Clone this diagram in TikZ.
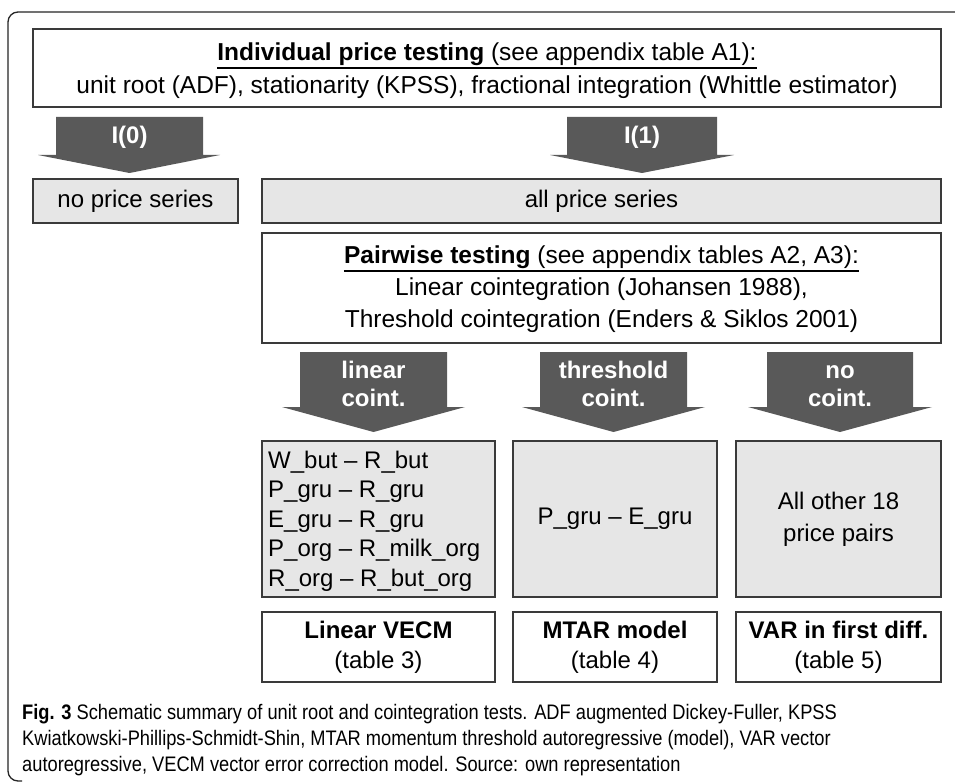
\documentclass[tikz,border=0pt]{standalone}
\usepackage{fontspec}
\setmainfont{Liberation Sans}
\newfontfamily\capfont{Liberation Sans}[FakeStretch=0.87]
\definecolor{arrowgray}{HTML}{595959}
\definecolor{boxgray}{HTML}{E6E6E6}
\definecolor{edgegray}{HTML}{3A3A3A}
\begin{document}
\begin{tikzpicture}[x=1pt,y=-1pt,
  box/.style={draw=edgegray, line width=1.4pt, inner sep=0pt},
  gbox/.style={box, fill=boxgray},
  txt/.style={font=\fontsize{24.5}{34}\selectfont, inner sep=0pt},
  rtxt/.style={font=\fontsize{24}{29.5}\selectfont, inner sep=0pt},
  atxt/.style={font=\fontsize{24}{28}\selectfont\bfseries, text=white, align=center, inner sep=0pt},
  capt/.style={font=\capfont\fontsize{21}{26}\selectfont, inner sep=0pt, anchor=base west},
  uline/.style={line width=1.2pt, draw=black}
]
\useasboundingbox (0,0) rectangle (955,783);
\fill[white] (0,0) rectangle (955,783);

% outer frame
\draw[line width=1.3pt, black!85, rounded corners=10pt] (955,12) -- (8,12) -- (8,781) -- (22,781);

% top box
\node[box, minimum width=908pt, minimum height=78pt] (top) at (487,68) {};
\node[txt, anchor=base] (topl1) at (487,61) {\textbf{Individual price testing} (see appendix table A1):};
\draw[uline] ([yshift=-7pt]topl1.base west) -- ([yshift=-7pt]topl1.base east);
\node[txt, anchor=base] (topl2) at (487,94) {unit root (ADF), stationarity (KPSS), fractional integration (Whittle estimator)};

% first arrows
\fill[arrowgray] (56,117) -- (203,117) -- (203,155) -- (220,155) -- (129.5,173) -- (38,155) -- (56,155) -- cycle;
\node[atxt] (a0) at (129.5,137) {I(0)};
\fill[arrowgray] (567,117) -- (717,117) -- (717,155) -- (734,155) -- (642,173) -- (550,155) -- (567,155) -- cycle;
\node[atxt] (a1) at (642,137) {I(1)};

% second row
\node[gbox, minimum width=205pt, minimum height=44pt, rtxt] (nops) at (135.5,201) {no price series};
\node[gbox, minimum width=679pt, minimum height=44pt, rtxt] (allps) at (601.5,201) {all price series};

% pairwise box
\node[box, minimum width=679pt, minimum height=110pt] (pair) at (601.5,288) {};
\node[txt, anchor=base] (pl1) at (601.5,264) {\textbf{Pairwise testing} (see appendix tables A2, A3):};
\draw[uline] ([yshift=-7pt]pl1.base west) -- ([yshift=-7pt]pl1.base east);
\node[txt, anchor=base] (pl2) at (601.5,296) {Linear cointegration (Johansen 1988),};
\node[txt, anchor=base] (pl3) at (601.5,327) {Threshold cointegration (Enders \& Siklos 2001)};

% second arrows
\fill[arrowgray] (300,352) -- (447,352) -- (447,407) -- (465,407) -- (373.5,432) -- (282,407) -- (300,407) -- cycle;
\node[atxt] (al) at (373.5,384) {linear\\coint.};
\fill[arrowgray] (540,352) -- (687,352) -- (687,407) -- (705,407) -- (613.5,432) -- (522,407) -- (540,407) -- cycle;
\node[atxt] (at) at (613.5,384) {threshold\\coint.};
\fill[arrowgray] (767,352) -- (913,352) -- (913,407) -- (932,407) -- (840,432) -- (748,407) -- (767,407) -- cycle;
\node[atxt] (an) at (840,384) {\vphantom{l}no\\coint.};

% third row
\node[gbox, minimum width=233pt, minimum height=156pt] (lin) at (378.5,519) {};
\node[rtxt, align=left, anchor=west] (lintxt) at (268,521) {W\_but – R\_but\\P\_gru – R\_gru\\E\_gru – R\_gru\\P\_org – R\_milk\_org\\R\_org – R\_but\_org};
\node[gbox, minimum width=204pt, minimum height=156pt, rtxt] (thr) at (615,519) {P\_gru – E\_gru};
\node[gbox, minimum width=205pt, minimum height=156pt, rtxt, align=center, font=\fontsize{24}{32}\selectfont] (oth) at (838.5,519) {All other 18\\price pairs};

% fourth row
\node[box, minimum width=233pt, minimum height=70pt, align=center, font=\fontsize{24}{30}\selectfont] (vecm) at (378.5,647) {\textbf{Linear VECM}\\(table 3)};
\node[box, minimum width=204pt, minimum height=70pt, align=center, font=\fontsize{24}{30}\selectfont] (mtar) at (615,647) {\textbf{MTAR model}\\(table 4)};
\node[box, minimum width=205pt, minimum height=70pt, align=center, font=\fontsize{24}{30}\selectfont] (var) at (838.5,647) {\textbf{VAR in first diff.}\\(table 5)};

% caption
\node[capt] (cap1) at (22,719) {\textbf{Fig. 3} Schematic summary of unit root and cointegration tests. ADF augmented Dickey-Fuller, KPSS};
\node[capt] (cap2) at (22,745) {Kwiatkowski-Phillips-Schmidt-Shin, MTAR momentum threshold autoregressive (model), VAR vector};
\node[capt] (cap3) at (22,771) {autoregressive, VECM vector error correction model. Source: own representation};
\end{tikzpicture}
\end{document}
